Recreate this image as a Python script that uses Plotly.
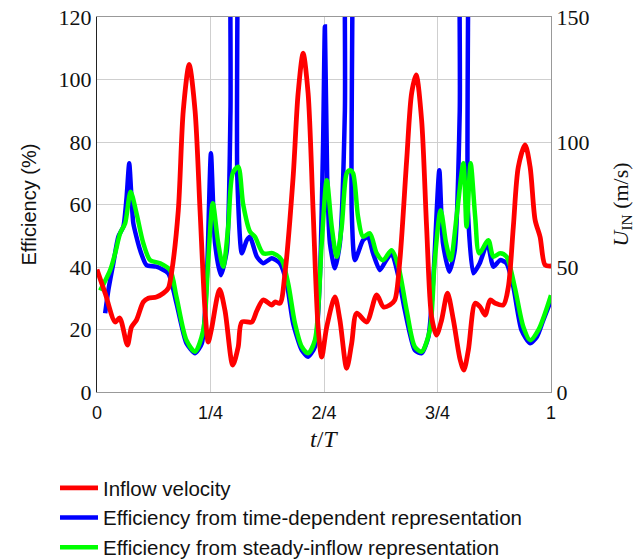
import plotly.graph_objects as go

# ---- data ----
t_red = [0.0, 0.018, 0.04, 0.05, 0.067, 0.076, 0.087, 0.102, 0.113, 0.131, 0.146, 0.157, 0.164,
         0.179, 0.19, 0.203, 0.216, 0.227, 0.238, 0.245, 0.252, 0.27, 0.282, 0.299, 0.311, 0.319,
         0.341, 0.352, 0.366, 0.385, 0.392, 0.403, 0.414, 0.432, 0.443, 0.454, 0.465, 0.476,
         0.487, 0.495, 0.506, 0.524, 0.535, 0.55, 0.561, 0.572, 0.594, 0.616, 0.631, 0.645,
         0.656, 0.667, 0.682, 0.693, 0.703, 0.715, 0.726, 0.737, 0.748, 0.759, 0.772, 0.785,
         0.8, 0.808, 0.818, 0.833, 0.844, 0.855, 0.866, 0.877, 0.895, 0.906, 0.917, 0.928,
         0.943, 0.954, 0.965, 0.976, 0.987, 1.0]
u_inflow = [49, 39.5, 28, 29.6, 18.8, 26, 28.8, 36, 37.5, 38, 39.5, 41.5, 47.5,
            72.5, 112.5, 131, 112.5, 72.5, 32.5, 20, 25, 41, 32.5, 10.8, 18, 28,
            28, 32.5, 36.8, 34.8, 36, 35.5, 47.5, 86, 119.5, 135.5, 119.5, 72.5,
            26, 14, 26, 38, 28.8, 9.5, 19.5, 31.5, 28, 38.8, 34, 34.8,
            36.8, 52.5, 92.5, 119.5, 126.8, 108.8, 66, 30, 22.8, 28.8, 39.5, 28.8,
            12.8, 8.8, 16.8, 35.5, 34, 30.8, 36.8, 35.5, 34.8, 42, 66, 90,
            98.8, 90, 68.8, 62, 50.8, 50.4]

t_td = [0.018, 0.025, 0.036, 0.047, 0.058, 0.065, 0.071, 0.076, 0.08, 0.095, 0.109, 0.131, 0.157,
        0.175, 0.197, 0.216, 0.231, 0.242, 0.251, 0.26, 0.273, 0.286, 0.294, 0.299, 0.304, 0.309,
        0.319, 0.33, 0.337, 0.352, 0.366, 0.385, 0.403, 0.418, 0.432, 0.451, 0.465, 0.48,
        0.491, 0.498, 0.502, 0.507, 0.513, 0.524, 0.535, 0.546, 0.551, 0.557, 0.561, 0.568,
        0.586, 0.597, 0.608, 0.623, 0.637, 0.649, 0.664, 0.678, 0.7, 0.715, 0.73, 0.741,
        0.754, 0.762, 0.776, 0.788, 0.799, 0.804, 0.811, 0.817, 0.829, 0.843, 0.86, 0.873,
        0.888, 0.902, 0.917, 0.935, 0.954, 0.969, 0.983, 1.0]
eff_td = [25.2, 32.6, 41.2, 49.7, 52.9, 62, 73.2, 62, 54, 45.4, 40.6, 40.1, 38,
          28.4, 15.6, 12.4, 15.6, 36.9, 76.4, 47.6, 37.4, 45.4, 90, 220, 220, 69,
          44.4, 48.6, 49.7, 43.3, 41.2, 42.8, 41.2, 34.8, 22, 13.4, 11.3, 14.5,
          36.9, 79.6, 117, 69, 47.6, 39.6, 47.6, 90, 220, 220, 58, 42.2,
          48.6, 49.7, 44.4, 39, 42.2, 44.4, 36.9, 26.2, 13.4, 12.4, 17.7, 36.9,
          71, 47.6, 38.5, 45.4, 90, 220, 220, 58, 38, 41.2, 47.6, 40.1,
          42.2, 41.2, 33.7, 19.8, 15.6, 17.7, 23, 29.4]

t_si = [0.007, 0.029, 0.04, 0.051, 0.062, 0.074, 0.087, 0.102, 0.117, 0.139, 0.161, 0.175, 0.197,
        0.216, 0.234, 0.245, 0.255, 0.267, 0.278, 0.289, 0.299, 0.311, 0.322, 0.337, 0.348,
        0.366, 0.388, 0.407, 0.421, 0.436, 0.451, 0.465, 0.48, 0.495, 0.506, 0.517, 0.528,
        0.539, 0.55, 0.557, 0.564, 0.575, 0.586, 0.601, 0.616, 0.63, 0.649, 0.664, 0.682,
        0.7, 0.715, 0.733, 0.744, 0.757, 0.769, 0.779, 0.792, 0.807, 0.814, 0.823, 0.833,
        0.842, 0.862, 0.873, 0.888, 0.902, 0.92, 0.939, 0.954, 0.972, 1.0]
eff_si = [32.5, 39, 44.4, 50.8, 54, 64.1, 57.2, 47.6, 42.2, 41.2, 39, 30.5, 16.6,
          12.9, 19.8, 42.2, 60.4, 47.6, 40.1, 52.9, 70, 72.1, 60, 51.3, 49.7,
          44.4, 44.4, 42.2, 34.8, 22, 14.5, 12.4, 16.6, 47.6, 67.8, 52.9, 43.3,
          52.9, 70, 71, 70, 56.1, 49.7, 50.8, 44.4, 42.2, 45.4, 40.1, 26.2,
          14.5, 12.9, 19.8, 42.2, 58.2, 47.6, 42.2, 56.1, 73.2, 52.9, 73.2, 56.1,
          44.4, 48.6, 43.3, 44.4, 43.3, 33.7, 20.9, 16.6, 19.8, 31]

x_tickvals = [0, 0.25, 0.5, 0.75, 1]
x_ticktext = ["0", "1/4", "2/4", "3/4", "1"]
y_left_ticks = [0, 20, 40, 60, 80, 100, 120]
y_right_ticks = [0, 50, 100, 150]

SANS = "Liberation Sans, Arial, sans-serif"
SERIF = "Liberation Serif, Times New Roman, serif"

fig = go.Figure()
fig.add_trace(go.Scatter(x=t_red, y=u_inflow, mode="lines", name="Inflow velocity",
                         yaxis="y2", line=dict(color="#ff0000", width=4.8, shape="spline", smoothing=0.8)))
fig.add_trace(go.Scatter(x=t_td, y=eff_td, mode="lines",
                         name="Efficiency from time-dependent representation",
                         line=dict(color="#0000ff", width=4.5, shape="spline", smoothing=0.6)))
fig.add_trace(go.Scatter(x=t_si, y=eff_si, mode="lines",
                         name="Efficiency from steady-inflow representation",
                         line=dict(color="#00ff00", width=4.5, shape="spline", smoothing=0.8)))

fig.update_layout(
    width=640, height=559,
    margin=dict(l=97, r=89, t=17, b=167, autoexpand=False),
    paper_bgcolor="white", plot_bgcolor="white",
    showlegend=True,
    legend=dict(xref="container", yref="container",
                x=55 / 640, y=(559 - 468) / 559, xanchor="left", yanchor="top",
                font=dict(family=SANS, size=20.5, color="#111"),
                itemwidth=38,
                bgcolor="rgba(0,0,0,0)", traceorder="normal"),
    xaxis=dict(range=[0, 1], tickvals=x_tickvals, ticktext=x_ticktext,
               tickfont=dict(family=SANS, size=18, color="#111"),
               showgrid=True, gridcolor="#cfcfcf", gridwidth=1,
               showline=True, linecolor="#999", linewidth=1, mirror=True,
               zeroline=False, ticks="", automargin=False, ticklabelstandoff=4),
    yaxis=dict(range=[0, 120], tickvals=y_left_ticks,
               tickfont=dict(family=SERIF, size=22, color="#111"),
               showgrid=True, gridcolor="#cfcfcf", gridwidth=1,
               showline=True, linecolor="#222", linewidth=1,
               zeroline=False, ticks="", automargin=False),
    yaxis2=dict(range=[0, 150], tickvals=y_right_ticks, overlaying="y", side="right",
                tickfont=dict(family=SERIF, size=22, color="#111"),
                showgrid=False, showline=True, linecolor="#999", linewidth=1,
                zeroline=False, ticks="", automargin=False),
    annotations=[
        dict(text="<i>t</i>/<i>T</i>", xref="paper", yref="paper", x=0.5, y=(392 - 439) / 375,
             xanchor="center", yanchor="middle", showarrow=False,
             font=dict(family=SERIF, size=24, color="#111")),
        dict(text="Efficiency (%)", xref="paper", yref="paper", x=(28 - 97) / 454, y=0.5,
             xanchor="center", yanchor="middle", textangle=-90, showarrow=False,
             font=dict(family=SANS, size=20, color="#111")),
        dict(text="<i>U</i><sub>IN</sub> (m/s)", xref="paper", yref="paper",
             x=(621 - 97) / 454, y=0.5, xanchor="center", yanchor="middle",
             textangle=-90, showarrow=False,
             font=dict(family=SERIF, size=22, color="#111")),
    ],
)

fig.write_html("out.html", post_script="document.body.style.margin='0';",
               config={"displayModeBar": False})
